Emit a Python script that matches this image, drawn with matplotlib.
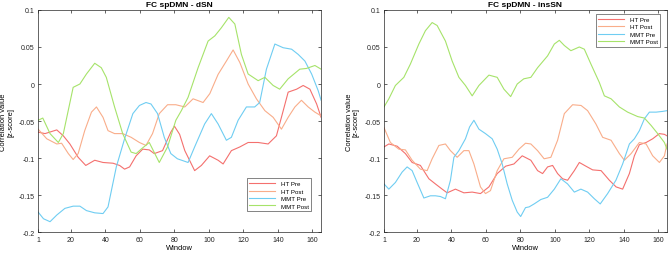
import numpy as np
import matplotlib.pyplot as plt

plt.rcParams['font.family'] = ['Liberation Sans', 'DejaVu Sans']

# ---- data (window index, correlation z-score) ----
# left panel: FC spDMN - dSN
d_ht_pre_x = [1, 5, 11.8, 15.6, 19.4, 24.2, 28.6, 33.8, 38.6, 44.4, 48.2, 51.1, 54, 57.8, 61.6, 65.4,
              68.3, 73.1, 77.9, 80, 83, 86, 91.7, 95.6, 100.4, 105.3, 108.2, 113, 117.9, 122.7, 128.5,
              134.3, 139.1, 142, 145.9, 150.8, 154.6, 158.5, 162.4, 165]
d_ht_pre_y = [-0.065, -0.067, -0.062, -0.070, -0.081, -0.099, -0.110, -0.103, -0.106, -0.107, -0.110,
              -0.115, -0.112, -0.097, -0.088, -0.089, -0.094, -0.090, -0.065, -0.057, -0.068, -0.090,
              -0.117, -0.110, -0.097, -0.103, -0.108, -0.090, -0.085, -0.079, -0.079, -0.081, -0.070,
              -0.045, -0.011, -0.007, -0.002, -0.007, -0.027, -0.045]

d_ht_post_x = [1, 6, 11.8, 14.6, 18.5, 21.3, 24.2, 28, 31.9, 34.8, 38.6, 41.5, 45.3, 50, 54.9, 59.7,
               63.5, 67.3, 71.2, 76, 80.8, 86, 90.8, 96.6, 100.5, 105.3, 110.1, 114, 117.9, 122.7,
               127.5, 132.4, 137.2, 142, 145.9, 149.8, 153.6, 157.5, 161.4, 165]
d_ht_post_y = [-0.061, -0.074, -0.081, -0.080, -0.094, -0.102, -0.094, -0.063, -0.038, -0.031, -0.045,
               -0.063, -0.067, -0.067, -0.072, -0.079, -0.083, -0.067, -0.040, -0.028, -0.028, -0.031,
               -0.020, -0.025, -0.013, 0.013, 0.031, 0.046, 0.029, 0.000, -0.020, -0.036, -0.045,
               -0.061, -0.045, -0.031, -0.022, -0.031, -0.038, -0.043]

d_mmt_pre_x = [1, 4.1, 7.9, 11.8, 16.5, 21.3, 25.2, 29, 33.8, 38.6, 41.5, 46.3, 51.1, 55.9, 59.7, 63.5,
               66.4, 70.2, 74.1, 77.9, 81.7, 87.9, 91.7, 97.5, 101.4, 105.3, 110.1, 113, 116.9, 121.7,
               126.5, 129.4, 133.3, 138.2, 143, 147.9, 151.7, 155.6, 159.5, 163.3, 165]
d_mmt_pre_y = [-0.173, -0.182, -0.186, -0.177, -0.168, -0.165, -0.165, -0.171, -0.174, -0.175, -0.166,
               -0.112, -0.074, -0.040, -0.029, -0.025, -0.027, -0.040, -0.072, -0.094, -0.101, -0.106,
               -0.085, -0.054, -0.040, -0.054, -0.076, -0.072, -0.049, -0.031, -0.031, -0.025, 0.020,
               0.054, 0.049, 0.047, 0.040, 0.031, 0.0135, -0.009, -0.022]

d_mmt_post_x = [1, 3.7, 7.9, 12.7, 15.6, 21.3, 25.2, 29, 33.8, 37.6, 40.5, 45.3, 50, 54.9, 57.8, 60.7,
                65.4, 71.2, 76, 80.8, 84, 87.9, 93.7, 99.5, 103.4, 107.2, 111.5, 115, 118.8, 122.7,
                128.5, 132.4, 137.2, 141, 145.9, 152.6, 156.5, 161.4, 165]
d_mmt_post_y = [-0.049, -0.046, -0.067, -0.079, -0.067, -0.0045, 0.000, 0.0135, 0.028, 0.022, 0.009,
                -0.031, -0.067, -0.092, -0.094, -0.088, -0.079, -0.106, -0.085, -0.049, -0.036, -0.018,
                0.022, 0.058, 0.065, 0.076, 0.090, 0.081, 0.040, 0.0135, 0.0045, 0.009, -0.002, -0.007,
                0.007, 0.020, 0.021, 0.025, 0.020]

# right panel: FC spDMN - insSN
i_ht_pre_x = [1, 3.8, 8.6, 13.4, 17.3, 22.1, 27, 30.8, 34.7, 37.6, 42.4, 47.3, 52.1, 56.9, 61.8, 66.6,
              71.5, 76.3, 81.1, 86.1, 90, 92.9, 95.8, 98.7, 101.6, 104.5, 107.4, 111.3, 114.2, 118,
              121.9, 126.8, 131.6, 135.5, 139.3, 143.2, 146.1, 149, 152.9, 156.7, 160.6, 163.5, 165]
i_ht_pre_y = [-0.085, -0.081, -0.084, -0.094, -0.106, -0.110, -0.128, -0.135, -0.142, -0.147, -0.142,
              -0.147, -0.146, -0.148, -0.139, -0.121, -0.111, -0.108, -0.097, -0.103, -0.117, -0.121,
              -0.112, -0.110, -0.121, -0.128, -0.130, -0.117, -0.106, -0.111, -0.116, -0.117, -0.130,
              -0.139, -0.142, -0.121, -0.097, -0.082, -0.079, -0.074, -0.067, -0.068, -0.070]

i_ht_post_x = [1, 4.7, 9.6, 13.4, 17.3, 22.1, 26, 28.9, 32.8, 36.6, 39.5, 43.4, 47.3, 50.2, 53.1, 56.9,
               59.8, 62.7, 66.6, 70.5, 75.3, 79.2, 83, 86.1, 90, 93.8, 97.7, 101.6, 105.5, 110.3,
               115.2, 119, 123.8, 127.7, 132.6, 137.4, 140.3, 144.2, 149, 152.9, 156.7, 160.6, 163.5, 165]
i_ht_post_y = [-0.059, -0.079, -0.088, -0.089, -0.103, -0.115, -0.117, -0.101, -0.083, -0.081, -0.090,
               -0.099, -0.090, -0.090, -0.108, -0.139, -0.148, -0.144, -0.117, -0.101, -0.099, -0.088,
               -0.080, -0.081, -0.090, -0.101, -0.099, -0.076, -0.040, -0.028, -0.029, -0.036, -0.054,
               -0.072, -0.076, -0.094, -0.103, -0.094, -0.079, -0.081, -0.097, -0.106, -0.097, -0.081]

i_mmt_pre_x = [1, 3.8, 7.6, 11.5, 14.4, 17.3, 20.2, 24.1, 27.9, 30.8, 33.7, 36.6, 39.5, 41.5, 44.4,
               48.2, 50.6, 53.1, 56, 59.8, 63.7, 66.6, 69.5, 72.4, 75.3, 78.2, 80.2, 83, 85.1, 88,
               91.9, 95.8, 99.7, 103.5, 107.4, 111.3, 115.1, 119, 122.9, 126.3, 130.6, 135.4, 139.3,
               143.2, 146.1, 149, 151.9, 154.8, 158.7, 162.5, 165]
i_mmt_pre_y = [-0.135, -0.142, -0.133, -0.119, -0.112, -0.117, -0.133, -0.154, -0.151, -0.151, -0.152,
               -0.155, -0.130, -0.099, -0.090, -0.074, -0.058, -0.049, -0.061, -0.067, -0.074, -0.088,
               -0.108, -0.135, -0.157, -0.173, -0.179, -0.167, -0.166, -0.162, -0.156, -0.153, -0.142,
               -0.128, -0.135, -0.146, -0.142, -0.146, -0.155, -0.162, -0.148, -0.130, -0.108, -0.081,
               -0.074, -0.063, -0.047, -0.038, -0.038, -0.037, -0.036]

i_mmt_post_x = [1, 3.8, 7.6, 12.5, 16.3, 21.2, 25, 28.9, 31.8, 36.6, 40.5, 44.4, 48.2, 52.1, 56, 61.8,
                66.6, 70.5, 74.4, 78.2, 82, 86.1, 90, 95.8, 99.7, 102.6, 105.5, 109.3, 114.2, 117.1,
                120.9, 125.8, 128.7, 132.6, 137.4, 142.2, 148, 151.9, 155.8, 159.6, 163.5, 165]
i_mmt_post_y = [-0.031, -0.020, -0.002, 0.009, 0.027, 0.054, 0.072, 0.083, 0.079, 0.058, 0.031, 0.009,
                -0.002, -0.016, -0.002, 0.012, 0.009, -0.007, -0.017, 0.000, 0.007, 0.009, 0.022, 0.038,
                0.054, 0.059, 0.052, 0.045, 0.050, 0.047, 0.027, 0.002, -0.016, -0.020, -0.031, -0.038,
                -0.044, -0.046, -0.056, -0.067, -0.079, -0.088]

labels = ['HT Pre', 'HT Post', 'MMT Pre', 'MMT Post']
colors = ['#f4706e', '#f9ad8a', '#6fcdf2', '#a6e36a']
xticks = [1, 20, 40, 60, 80, 100, 120, 140, 160]
yticks = [-0.2, -0.15, -0.1, -0.05, 0, 0.05, 0.1]
ytick_labels = ['-0.2', '-0.15', '-0.1', '-0.05', '0', '0.05', '0.1']


def style_axes(ax, title):
    ax.set_xlim(1, 165)
    ax.set_ylim(-0.2, 0.1)
    ax.set_xticks(xticks)
    ax.set_yticks(yticks)
    ax.set_yticklabels(ytick_labels)
    ax.tick_params(direction='in', length=2.5, width=0.5, labelsize=5, colors='#262626',
                   top=True, right=True, pad=2.5)
    for sp in ax.spines.values():
        sp.set_linewidth(0.5)
        sp.set_color('#262626')
    ax.set_title(title, fontsize=6, fontweight='bold', pad=2.5)
    ax.set_xlabel('Window', fontsize=5.4, labelpad=1)
    ax.set_ylabel('Correlation value\n[z-score]', fontsize=5.4, linespacing=1.0)
    ax.yaxis.set_label_coords(-0.085, 0.5)


fig = plt.figure(figsize=(6.69, 2.55), dpi=100)
ax1 = fig.add_axes([0.057, 0.086, 0.423, 0.871])
ax2 = fig.add_axes([0.574, 0.086, 0.423, 0.871])

left_series = [(d_ht_pre_x, d_ht_pre_y), (d_ht_post_x, d_ht_post_y),
               (d_mmt_pre_x, d_mmt_pre_y), (d_mmt_post_x, d_mmt_post_y)]
right_series = [(i_ht_pre_x, i_ht_pre_y), (i_ht_post_x, i_ht_post_y),
                (i_mmt_pre_x, i_mmt_pre_y), (i_mmt_post_x, i_mmt_post_y)]

for (x, y), lab, c in zip(left_series, labels, colors):
    ax1.plot(x, y, color=c, lw=0.8, label=lab)
for (x, y), lab, c in zip(right_series, labels, colors):
    ax2.plot(x, y, color=c, lw=0.8, label=lab)

style_axes(ax1, 'FC spDMN - dSN')
style_axes(ax2, 'FC spDMN - insSN')

leg_kw = dict(prop={'size': 4.4}, frameon=True, fancybox=False, edgecolor='#262626',
              handlelength=4.2, borderpad=0.45, labelspacing=0.35, handletextpad=0.9,
              borderaxespad=0.3)
l1 = ax1.legend(loc='lower right', bbox_to_anchor=(0.972, 0.085), **leg_kw)
l2 = ax2.legend(loc='upper right', bbox_to_anchor=(0.983, 0.99), **leg_kw)
for lg in (l1, l2):
    lg.get_frame().set_linewidth(0.5)

fig.savefig('out.png', dpi=100)
